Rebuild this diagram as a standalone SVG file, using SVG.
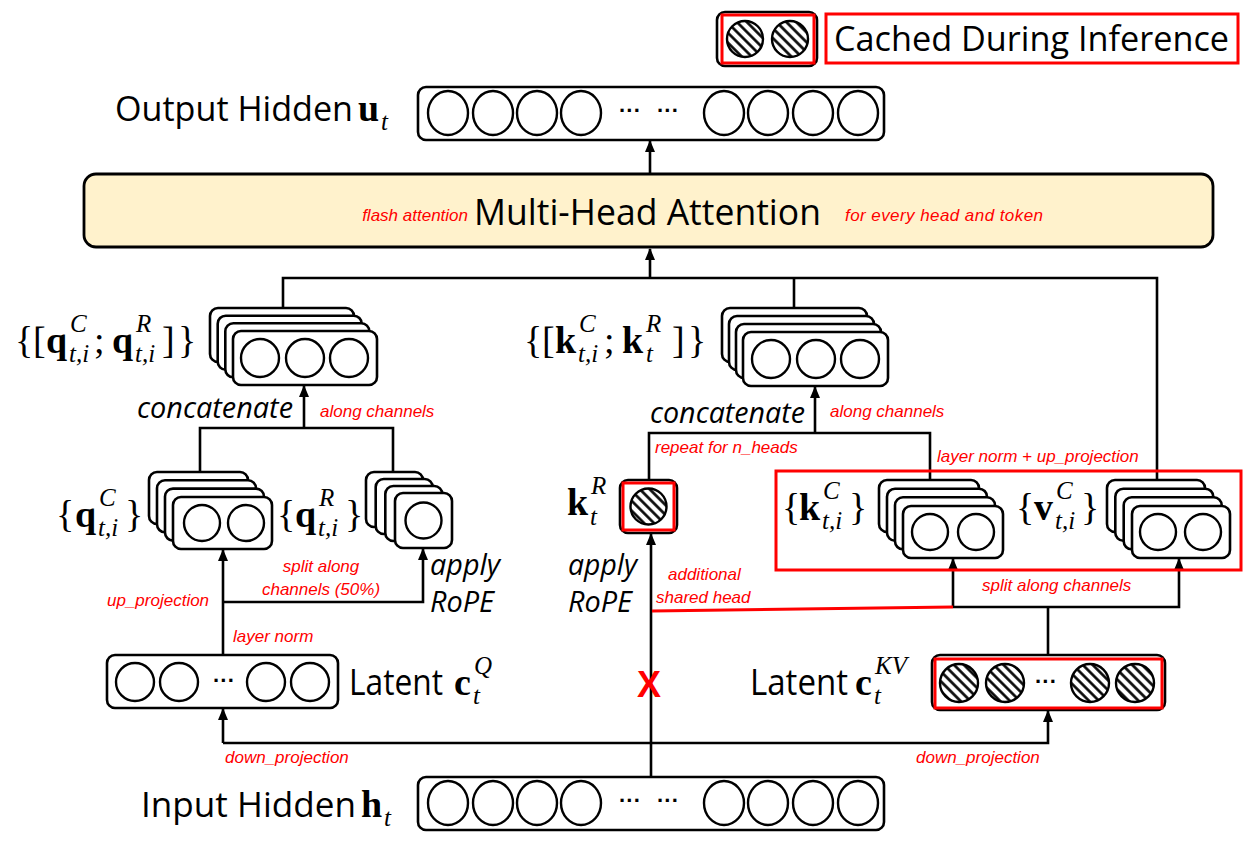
<svg xmlns="http://www.w3.org/2000/svg" width="1243" height="850" viewBox="0 0 1243 850">
<style>
.box{fill:#fff;stroke:#000;stroke-width:2.6}
.cir{fill:#fff;stroke:#000;stroke-width:2.4}
.hc{fill:url(#hatch);stroke:#000;stroke-width:2.4}
.ln{fill:none;stroke:#000;stroke-width:2.6}
.arr{fill:none;stroke:#000;stroke-width:2.6;marker-end:url(#ah)}
.red{fill:none;stroke:#f00;stroke-width:3}
.sans{font-family:"Open Sans","Noto Sans",sans-serif;fill:#000}
.it{font-family:"Open Sans","Noto Sans",sans-serif;font-style:italic;fill:#000;font-size:30px}
.ann{font-family:"Liberation Sans",Arial,sans-serif;font-style:italic;fill:#f00;font-size:17px}
.m{font-family:"Liberation Serif","DejaVu Serif",serif;font-size:38px;fill:#000}
.b{font-weight:bold}
.s{font-style:italic;font-size:25px}
.dots{font-family:"Liberation Sans",sans-serif;font-size:22px;font-weight:bold;fill:#000}
</style>
<defs>
<pattern id="hatch" width="7" height="7" patternUnits="userSpaceOnUse" patternTransform="rotate(-45)">
<rect width="7" height="7" fill="#fff"/>
<line x1="1.5" y1="0" x2="1.5" y2="7" stroke="#000" stroke-width="2.6"/>
</pattern>
<marker id="ah" markerWidth="12" markerHeight="12" refX="11" refY="6" orient="auto" markerUnits="userSpaceOnUse">
<path d="M0,1 L12,6 L0,11 Z" fill="#000"/>
</marker>
</defs>

<g id="connectors">
<line class="arr" x1="650" y1="174" x2="650" y2="141"/>
<polyline class="ln" points="283,308 283,278 1157,278 1157,480"/>
<line class="ln" x1="794" y1="278" x2="794" y2="308"/>
<line class="arr" x1="650" y1="278" x2="650" y2="249"/>
<polyline class="ln" points="200,472 200,428 393,428 393,472"/>
<line class="arr" x1="304" y1="428" x2="304" y2="386"/>
<polyline class="ln" points="649,481 649,433 930,433 930,480"/>
<line class="arr" x1="815" y1="433" x2="815" y2="387"/>
<line class="arr" x1="223" y1="655" x2="223" y2="550"/>
<polyline class="arr" points="223,602 423,602 423,549"/>
<line class="arr" x1="223" y1="743" x2="223" y2="709"/>
<polyline class="arr" points="223,743 1048,743 1048,711"/>
<line class="arr" x1="651" y1="777" x2="651" y2="534"/>
<line class="ln" x1="1048" y1="655" x2="1048" y2="607"/>
<polyline class="arr" points="953,607 953,559"/>
<polyline class="arr" points="953,607 1179,607 1179,559"/>
<line x1="652" y1="611" x2="953" y2="607" stroke="#f00" stroke-width="3"/>
</g>

<g id="legend">
<rect class="box" x="717" y="12" width="100" height="54" rx="8"/>
<circle class="hc" cx="745" cy="39" r="18"/>
<circle class="hc" cx="790" cy="39" r="18"/>
<rect class="red" x="722" y="15" width="92" height="48"/>
<rect class="red" x="826" y="14" width="412" height="49"/>
<text class="sans" x="834" y="51" font-size="35" textLength="395" lengthAdjust="spacingAndGlyphs">Cached During Inference</text>
</g>

<g id="output-hidden">
<text class="sans" x="115" y="121" font-size="35" textLength="238" lengthAdjust="spacingAndGlyphs">Output Hidden</text>
<text class="m"><tspan class="b" x="358" y="121">u</tspan><tspan class="s" x="381" y="130">t</tspan></text>
<rect class="box" x="418" y="87" width="466" height="53" rx="8"/>
<ellipse class="cir" cx="448" cy="113" rx="20" ry="22"/>
<ellipse class="cir" cx="493" cy="113" rx="20" ry="22"/>
<ellipse class="cir" cx="537" cy="113" rx="20" ry="22"/>
<ellipse class="cir" cx="581" cy="113" rx="20" ry="22"/>
<text class="dots" x="619" y="118">···</text>
<text class="dots" x="657" y="118">···</text>
<ellipse class="cir" cx="724" cy="113" rx="20" ry="22"/>
<ellipse class="cir" cx="768" cy="113" rx="20" ry="22"/>
<ellipse class="cir" cx="813" cy="113" rx="20" ry="22"/>
<ellipse class="cir" cx="858" cy="113" rx="20" ry="22"/>
</g>

<g id="mha">
<rect x="84" y="174" width="1129" height="73" rx="12" fill="#fff2cc" stroke="#000" stroke-width="2.8"/>
<text class="ann" x="468" y="221" text-anchor="end">flash attention</text>
<text class="sans" x="474" y="225" font-size="37" textLength="347" lengthAdjust="spacingAndGlyphs">Multi-Head Attention</text>
<text class="ann" x="845" y="221" textLength="198">for every head and token</text>
</g>

<g id="q-concat">
<rect class="box" x="210" y="308" width="144" height="54" rx="8"/>
<rect class="box" x="217.7" y="315.7" width="144" height="54" rx="8"/>
<rect class="box" x="225.3" y="323.3" width="144" height="54" rx="8"/>
<rect class="box" x="233" y="331" width="144" height="54" rx="8"/>
<circle class="cir" cx="260" cy="358" r="19"/>
<circle class="cir" cx="305" cy="358" r="19"/>
<circle class="cir" cx="349" cy="358" r="19"/>
<text class="m"><tspan x="15" y="353">{</tspan><tspan x="33" y="353">[</tspan><tspan class="b" x="46" y="353">q</tspan><tspan class="s" x="70" y="332">C</tspan><tspan class="s" x="69" y="362">t,i</tspan><tspan x="94" y="353">;</tspan><tspan class="b" x="112" y="353">q</tspan><tspan class="s" x="136" y="332">R</tspan><tspan class="s" x="135" y="362">t,i</tspan><tspan x="162" y="353">]</tspan><tspan x="178" y="353">}</tspan></text>
<text class="it" x="137" y="418" textLength="156" lengthAdjust="spacingAndGlyphs">concatenate</text>
<text class="ann" x="320" y="417">along channels</text>
</g>

<g id="k-concat">
<rect class="box" x="722" y="308" width="145" height="54" rx="8"/>
<rect class="box" x="729" y="316" width="145" height="54" rx="8"/>
<rect class="box" x="736" y="324" width="145" height="54" rx="8"/>
<rect class="box" x="743" y="332" width="145" height="54" rx="8"/>
<circle class="cir" cx="771" cy="359" r="19"/>
<circle class="cir" cx="816" cy="359" r="19"/>
<circle class="cir" cx="860" cy="359" r="19"/>
<text class="m"><tspan x="524" y="353">{</tspan><tspan x="542" y="353">[</tspan><tspan class="b" x="555" y="353">k</tspan><tspan class="s" x="579" y="332">C</tspan><tspan class="s" x="578" y="362">t,i</tspan><tspan x="604" y="353">;</tspan><tspan class="b" x="622" y="353">k</tspan><tspan class="s" x="646" y="332">R</tspan><tspan class="s" x="646" y="362">t</tspan><tspan x="672" y="353">]</tspan><tspan x="688" y="353">}</tspan></text>
<text class="it" x="650" y="423" textLength="155" lengthAdjust="spacingAndGlyphs">concatenate</text>
<text class="ann" x="830" y="417">along channels</text>
<text class="ann" x="655" y="453">repeat for n_heads</text>
</g>

<g id="q-compressed">
<rect class="box" x="149" y="472" width="99" height="52" rx="8"/>
<rect class="box" x="157" y="480.3" width="99" height="52" rx="8"/>
<rect class="box" x="165" y="488.6" width="99" height="52" rx="8"/>
<rect class="box" x="173" y="497" width="99" height="52" rx="8"/>
<circle class="cir" cx="202" cy="523" r="18"/>
<circle class="cir" cx="246" cy="523" r="18"/>
<text class="m"><tspan x="56" y="527">{</tspan><tspan class="b" x="75" y="527">q</tspan><tspan class="s" x="99" y="506">C</tspan><tspan class="s" x="98" y="536">t,i</tspan><tspan x="125" y="527">}</tspan></text>
</g>

<g id="q-rope">
<rect class="box" x="366" y="472" width="57" height="55" rx="8"/>
<rect class="box" x="375.7" y="479" width="57" height="55" rx="8"/>
<rect class="box" x="385.3" y="486" width="57" height="55" rx="8"/>
<rect class="box" x="395" y="493" width="57" height="55" rx="8"/>
<circle class="cir" cx="423.5" cy="520.5" r="18"/>
<text class="m"><tspan x="277" y="527">{</tspan><tspan class="b" x="295" y="527">q</tspan><tspan class="s" x="319" y="506">R</tspan><tspan class="s" x="318" y="536">t,i</tspan><tspan x="345" y="527">}</tspan></text>
<text class="it" x="430" y="575" textLength="70" lengthAdjust="spacingAndGlyphs">apply</text>
<text class="it" x="430" y="612" textLength="64" lengthAdjust="spacingAndGlyphs">RoPE</text>
<text class="ann" x="321" y="572" text-anchor="middle">split along</text>
<text class="ann" x="321" y="595" text-anchor="middle">channels (50%)</text>
<text class="ann" x="107" y="606">up_projection</text>
</g>

<g id="k-rope">
<rect class="box" x="620" y="480" width="57" height="53" rx="8"/>
<rect class="red" x="623" y="483" width="51" height="47"/>
<circle class="hc" cx="648.5" cy="506.5" r="18"/>
<text class="m"><tspan class="b" x="567" y="515">k</tspan><tspan class="s" x="591" y="494">R</tspan><tspan class="s" x="590" y="525">t</tspan></text>
<text class="it" x="568" y="575" textLength="69" lengthAdjust="spacingAndGlyphs">apply</text>
<text class="it" x="568" y="612" textLength="64" lengthAdjust="spacingAndGlyphs">RoPE</text>
<text class="ann" x="668" y="580">additional</text>
<text class="ann" x="656" y="603">shared head</text>
<text x="649" y="697" text-anchor="middle" font-family="Liberation Sans,Arial,sans-serif" font-weight="bold" font-size="36" fill="#f00">X</text>
</g>

<g id="kv-compressed">
<rect class="red" x="776" y="471" width="465" height="99"/>
<text class="ann" x="937" y="462">layer norm + up_projection</text>
<rect class="box" x="879" y="480" width="100" height="52" rx="8"/>
<rect class="box" x="887" y="488.7" width="100" height="52" rx="8"/>
<rect class="box" x="895" y="497.3" width="100" height="52" rx="8"/>
<rect class="box" x="903" y="506" width="100" height="52" rx="8"/>
<circle class="cir" cx="930" cy="532" r="18"/>
<circle class="cir" cx="976" cy="532" r="18"/>
<text class="m"><tspan x="782" y="520">{</tspan><tspan class="b" x="799" y="520">k</tspan><tspan class="s" x="823" y="499">C</tspan><tspan class="s" x="822" y="529">t,i</tspan><tspan x="849" y="520">}</tspan></text>
<rect class="box" x="1107" y="480" width="98" height="52" rx="8"/>
<rect class="box" x="1115.3" y="488.7" width="98" height="52" rx="8"/>
<rect class="box" x="1123.7" y="497.3" width="98" height="52" rx="8"/>
<rect class="box" x="1132" y="506" width="98" height="52" rx="8"/>
<circle class="cir" cx="1158" cy="532" r="18"/>
<circle class="cir" cx="1203" cy="532" r="18"/>
<text class="m"><tspan x="1016" y="520">{</tspan><tspan class="b" x="1034" y="520">v</tspan><tspan class="s" x="1056" y="499">C</tspan><tspan class="s" x="1055" y="529">t,i</tspan><tspan x="1081" y="520">}</tspan></text>
<text class="ann" x="982" y="591">split along channels</text>
</g>

<g id="latent-q">
<rect class="box" x="107" y="655" width="231" height="53" rx="8"/>
<circle class="cir" cx="135" cy="682" r="19"/>
<circle class="cir" cx="179" cy="682" r="19"/>
<text class="dots" x="213" y="688">···</text>
<circle class="cir" cx="266" cy="682" r="19"/>
<circle class="cir" cx="310" cy="682" r="19"/>
<text class="ann" x="233" y="642">layer norm</text>
<text class="sans" x="349" y="695" font-size="36" textLength="94" lengthAdjust="spacingAndGlyphs">Latent</text>
<text class="m"><tspan class="b" x="454" y="695">c</tspan><tspan class="s" x="474" y="674">Q</tspan><tspan class="s" x="473" y="704">t</tspan></text>
</g>

<g id="latent-kv">
<rect class="box" x="932" y="655" width="233" height="55" rx="8"/>
<rect class="red" x="935" y="659" width="227" height="49"/>
<circle class="hc" cx="959" cy="683" r="19"/>
<circle class="hc" cx="1005" cy="683" r="19"/>
<text class="dots" x="1035" y="689">···</text>
<circle class="hc" cx="1090" cy="683" r="19"/>
<circle class="hc" cx="1135" cy="683" r="19"/>
<text class="sans" x="750" y="695" font-size="36" textLength="98" lengthAdjust="spacingAndGlyphs">Latent</text>
<text class="m"><tspan class="b" x="855" y="695">c</tspan><tspan class="s" x="875" y="674">KV</tspan><tspan class="s" x="874" y="704">t</tspan></text>
</g>

<g id="input-hidden">
<text class="ann" x="225" y="763">down_projection</text>
<text class="ann" x="916" y="763">down_projection</text>
<text class="sans" x="141" y="817" font-size="35" textLength="215" lengthAdjust="spacingAndGlyphs">Input Hidden</text>
<text class="m"><tspan class="b" x="361" y="817">h</tspan><tspan class="s" x="384" y="826">t</tspan></text>
<rect class="box" x="418" y="777" width="466" height="53" rx="8"/>
<ellipse class="cir" cx="448" cy="803" rx="20" ry="22"/>
<ellipse class="cir" cx="493" cy="803" rx="20" ry="22"/>
<ellipse class="cir" cx="537" cy="803" rx="20" ry="22"/>
<ellipse class="cir" cx="581" cy="803" rx="20" ry="22"/>
<text class="dots" x="619" y="808">···</text>
<text class="dots" x="657" y="808">···</text>
<ellipse class="cir" cx="724" cy="803" rx="20" ry="22"/>
<ellipse class="cir" cx="768" cy="803" rx="20" ry="22"/>
<ellipse class="cir" cx="813" cy="803" rx="20" ry="22"/>
<ellipse class="cir" cx="858" cy="803" rx="20" ry="22"/>
</g>
</svg>
